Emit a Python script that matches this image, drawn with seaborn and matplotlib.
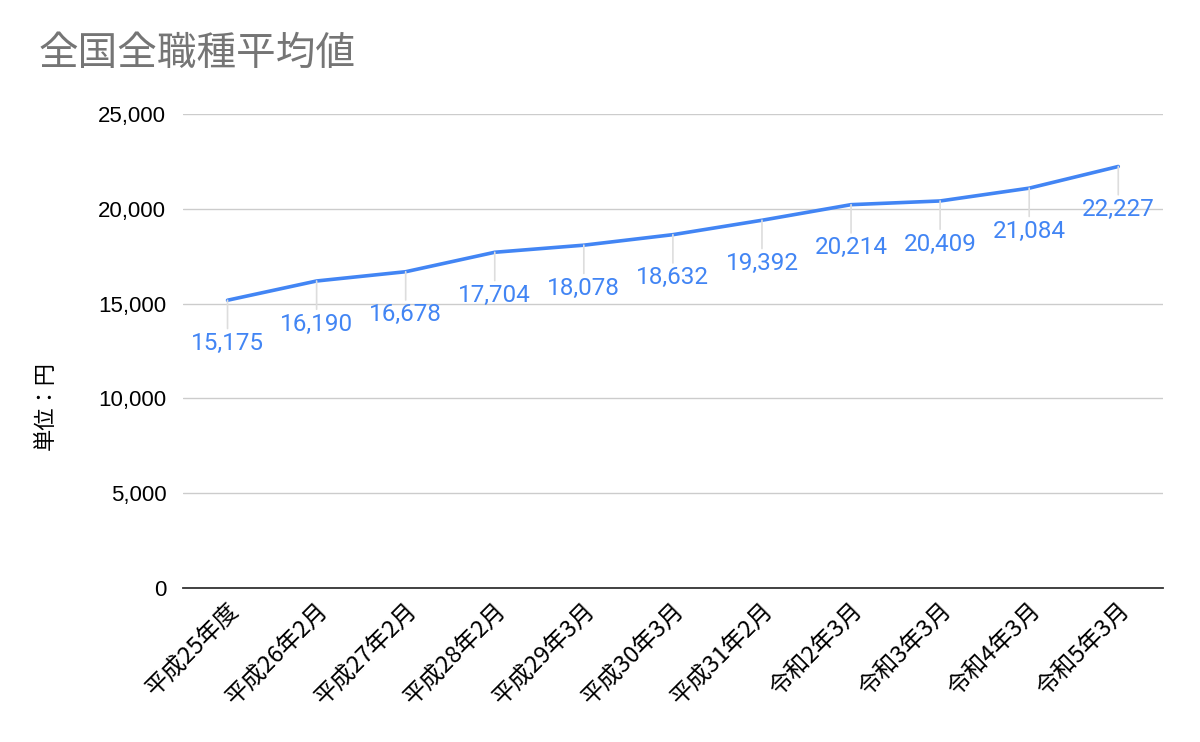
import matplotlib
matplotlib.use("Agg")
import matplotlib.pyplot as plt
import seaborn as sns
import pandas as pd

# データ
periods = ["平成25年度", "平成26年2月", "平成27年2月", "平成28年2月", "平成29年3月",
           "平成30年3月", "平成31年2月", "令和2年3月", "令和3年3月", "令和4年3月", "令和5年3月"]
values = [15175, 16190, 16678, 17704, 18078, 18632, 19392, 20214, 20409, 21084, 22227]
yticks = [0, 5000, 10000, 15000, 20000, 25000]

sns.set_style("white")
plt.rcParams['font.family'] = ['Roboto', 'Noto Sans CJK JP', 'DejaVu Sans']

df = pd.DataFrame({"period": periods, "value": values, "pos": range(len(periods))})

fig = plt.figure(figsize=(12, 7.42), dpi=100)
ax = fig.add_axes([0.1525, 0.2075, 0.8165, 0.639])

sns.lineplot(data=df, x="pos", y="value", ax=ax, color="#4285F4", linewidth=2.6)

# ラベル
for _, r in df.iterrows():
    ax.annotate(f"{r['value']:,}", xy=(r['pos'], r['value']), xytext=(0, -31),
                textcoords="offset points", ha="center", va="center",
                fontsize=17.5, color="#4285F4",
                arrowprops=dict(arrowstyle="-", color="#dddddd", lw=1.2,
                                shrinkA=0, shrinkB=0))

ax.set_xlim(-0.5, len(periods) - 0.5)
ax.set_ylim(0, 25000)
ax.set_yticks(yticks)
ax.set_yticklabels([f"{v:,}" for v in yticks], fontsize=16, color="black",
                   family=['Liberation Sans', 'DejaVu Sans'])
ax.set_xticks(df["pos"])
ax.set_xticklabels(periods, rotation=45, ha="right", rotation_mode="anchor",
                   fontsize=17, color="black",
                   family=['Noto Sans CJK JP', 'DejaVu Sans'])
ax.tick_params(axis="y", length=0, pad=12)
ax.tick_params(axis="x", length=0, pad=8)
ax.grid(axis="y", color="#cccccc", linewidth=1)
ax.set_axisbelow(True)
for s in ["top", "right", "left"]:
    ax.spines[s].set_visible(False)
ax.spines["bottom"].set_color("#333333")
ax.spines["bottom"].set_linewidth(1.3)
ax.set_xlabel("")
ax.set_ylabel("単位：円", fontsize=16, color="black",
              family=['Noto Sans CJK JP', 'DejaVu Sans'])
ax.yaxis.set_label_coords(-0.129, 0.385)

fig.text(0.032, 0.928, "全国全職種平均値", fontsize=28.5, color="#757575",
         family=['Noto Sans CJK JP', 'DejaVu Sans'], va="center")

fig.savefig("out.png", dpi=100)
